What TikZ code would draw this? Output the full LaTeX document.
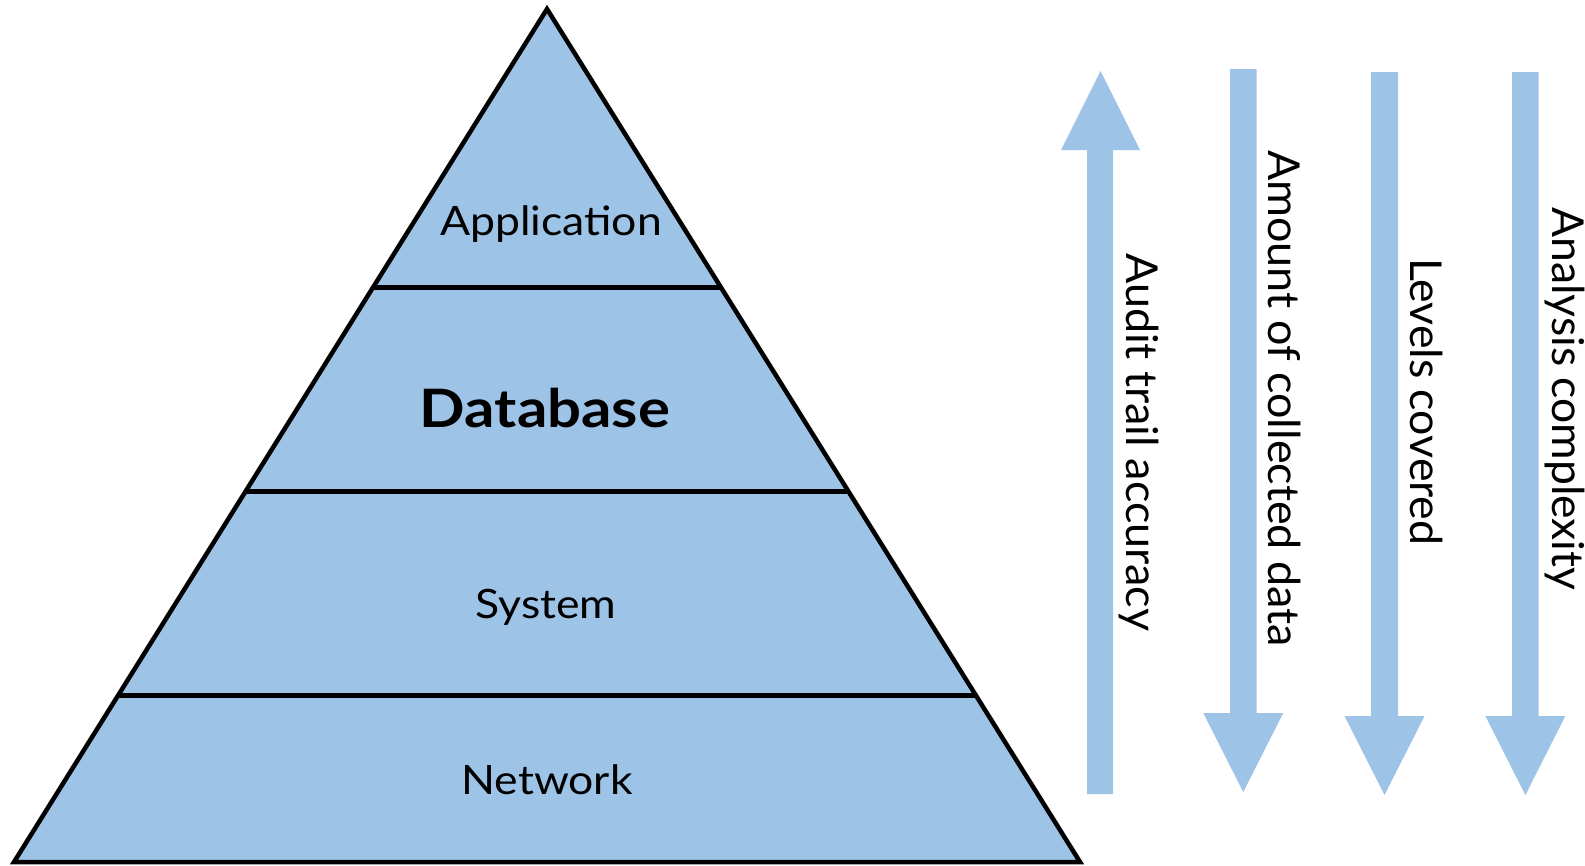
\documentclass[tikz,border=0pt]{standalone}
\usepackage{fontspec}
\setmainfont{Lato}
\usetikzlibrary{calc}
\definecolor{layerblue}{HTML}{9DC3E6}
\newcommand{\widen}[2]{\scalebox{#1}[1]{#2}}
\tikzset{
  layer/.style={fill=layerblue, draw=black, line width=4.5pt, line join=miter},
  divider/.style={draw=black, line width=5pt},
  layertext/.style={inner sep=0pt, anchor=base, font=\fontsize{40.5}{48}\selectfont},
  fatarrow/.style={fill=layerblue, draw=none},
  sidetext/.style={inner sep=0pt, anchor=base west, rotate=-90, font=\fontsize{44}{52}\selectfont}
}
\begin{document}
\begin{tikzpicture}[x=1pt, y=-1pt]
  \useasboundingbox (0,0) rectangle (1585,865);

  % pyramid outline
  \coordinate (apex) at (547,9);
  \coordinate (bl) at (14,862);
  \coordinate (br) at (1080,862);
  \path[layer] (apex) -- (br) -- (bl) -- cycle;

  % layer boundaries
  \foreach \y [count=\i] in {288,492,695} {
    \coordinate (l\i) at ($(apex)!{(\y-9)/853}!(bl)$);
    \coordinate (r\i) at ($(apex)!{(\y-9)/853}!(br)$);
    \draw[divider] (l\i) -- (r\i);
  }

  % layer names
  \node[layertext] (app) at (551,235) {\widen{1.1}{Application}};
  \node[layertext, font=\fontsize{53}{60}\selectfont\bfseries] (db) at (545,427) {\widen{1.13}{Database}};
  \node[layertext] (sys) at (546,618) {\widen{1.1}{System}};
  \node[layertext] (net) at (547,794) {\widen{1.1}{Network}};

  % up arrow
  \path[fatarrow] (1087,794) -- (1087,150) -- (1061,150) -- (1100.5,71)
    -- (1140,150) -- (1113,150) -- (1113,794) -- cycle;
  % down arrows
  \foreach \xl/\xr/\top in {1230/1256.5/69, 1371/1398/72, 1512/1538.7/72} {
    \pgfmathsetmacro{\xc}{(\xl+\xr)/2}
    \path[fatarrow] (\xl,\top) -- (\xl,\top+644) -- (\xc-40,\top+644) -- (\xc,\top+723)
      -- (\xc+40,\top+644) -- (\xr,\top+644) -- (\xr,\top) -- cycle;
  }

  % arrow captions
  \node[sidetext] (acc) at (1126,253) {\widen{1.02}{Audit trail accuracy}};
  \node[sidetext] (amt) at (1268,150) {\widen{1.02}{Amount of collected data}};
  \node[sidetext] (lvl) at (1410,258) {\widen{1.015}{Levels covered}};
  \node[sidetext] (cpx) at (1552,207) {\widen{1.01}{Analysis complexity}};
\end{tikzpicture}
\end{document}
